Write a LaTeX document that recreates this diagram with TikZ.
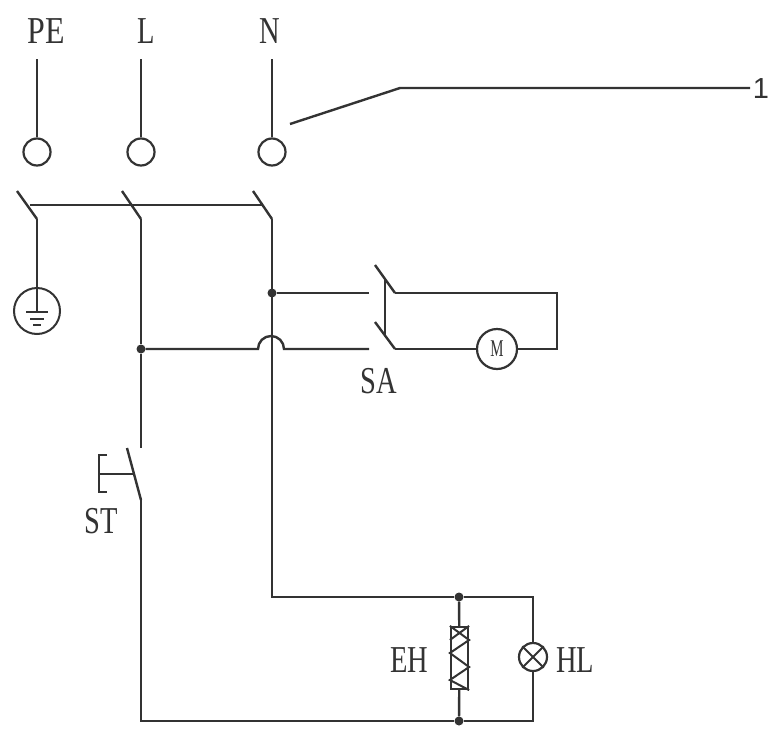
\documentclass[tikz,border=0pt]{standalone}
\usepackage{fontspec}
\setmainfont{Liberation Serif}
\newfontfamily\sansone{Liberation Sans}
\definecolor{ink}{HTML}{333333}
\tikzset{
  wire/.style={draw=ink,line width=2.4pt,line join=miter},
  thin wire/.style={draw=ink,line width=2pt},
  terminal/.style={circle,draw=ink,line width=2.2pt,fill=white,minimum size=27pt,inner sep=0pt},
  junction/.style={circle,fill=ink,draw=none,minimum size=9pt,inner sep=0pt},
  lab/.style={text=ink,font=\fontsize{38}{38}\selectfont,xscale=.75,inner sep=0pt},
}
\begin{document}
\begin{tikzpicture}[x=1pt,y=-1pt]
\useasboundingbox (0,0) rectangle (770,728);
% labels
\node[lab,xscale=1.12] (lPE) at (46,31) {PE};
\node[lab] (lL) at (146,31) {L};
\node[lab] (lN) at (270,31) {N};
\node[lab] (lSA) at (379,381) {SA};
\node[lab] (lST) at (101,521) {ST};
\node[lab] (lEH) at (409,660) {EH};
\node[lab] (lHL) at (575,660) {HL};
\node[text=ink,inner sep=0pt,font=\sansone\fontsize{29}{29}\selectfont] (lOne) at (761,89) {1};
% terminals
\coordinate (tPE) at (37,59);
\coordinate (tL) at (141,59);
\coordinate (tN) at (272,59);
\node[terminal] (cPE) at (37,152) {};
\node[terminal] (cL) at (141,152) {};
\node[terminal] (cN) at (272,152) {};
\draw[wire] (tPE) -- (cPE);
\draw[wire] (tL) -- (cL);
\draw[wire] (tN) -- (cN);
% leader
\coordinate (ldA) at (290,124);
\coordinate (ldB) at (400,88);
\coordinate (ldC) at (750,88);
\draw[wire] (ldA) -- (ldB) -- (ldC);
% main switch
\coordinate (bPEa) at (17,191); \coordinate (bPEb) at (37,219);
\coordinate (bLa) at (122,191); \coordinate (bLb) at (141,219);
\coordinate (bNa) at (253,191); \coordinate (bNb) at (272,219);
\coordinate (lkA) at (30,205); \coordinate (lkB) at (263,205);
\draw[wire] (lkA) -- (lkB);
\draw[wire] (bPEa) -- (bPEb);
\draw[wire] (bLa) -- (bLb);
\draw[wire] (bNa) -- (bNb);
% earth
\node[circle,draw=ink,line width=2pt,minimum size=46pt,inner sep=0pt] (gnd) at (37,311) {};
\coordinate (g1) at (37,312);
\draw[wire] (bPEb) -- (gnd.north);
\draw[wire] (gnd.north) -- (g1);
\coordinate (g1a) at (26,312); \coordinate (g1b) at (48,312);
\coordinate (g2a) at (30,318.5); \coordinate (g2b) at (44,318.5);
\coordinate (g3a) at (33,325); \coordinate (g3b) at (41,325);
\draw[thin wire] (g1a) -- (g1b);
\draw[thin wire] (g2a) -- (g2b);
\draw[thin wire] (g3a) -- (g3b);
% junctions
\node[junction] (jN) at (272,293) {};
\node[junction] (jL) at (141,349) {};
\node[junction] (jT) at (459,597) {};
\node[junction] (jB) at (459,721) {};
% L and N lines
\coordinate (Lend) at (141,448);
\draw[wire] (bLb) -- (jL) -- (Lend);
\coordinate (cornerN) at (272,597);
\draw[wire] (bNb) -- (cornerN) -- (jT);
% ST
\coordinate (stA) at (127,448); \coordinate (stB) at (141,500);
\coordinate (btA) at (107,455); \coordinate (btB) at (99,455); \coordinate (btC) at (99,492); \coordinate (btD) at (107,492);
\coordinate (btE) at (99,474); \coordinate (btF) at (134,474);
\draw[wire] (stA) -- (stB);
\draw[wire] (btA) -- (btB) -- (btC) -- (btD);
\draw[wire] (btE) -- (btF);
\coordinate (cornerB) at (141,721);
\draw[wire] (stB) -- (cornerB) -- (jB);
% SA
\coordinate (saTo) at (369,293);
\coordinate (saLo) at (369,349);
\coordinate (hA) at (256,349); \coordinate (hB) at (286,349);
\draw[wire] (jN) -- (saTo);
\draw[wire] (jL) -- (hA) -- ++(2,0) arc[start angle=180,end angle=360,radius=13] -- (hB) -- (saLo);
\coordinate (saA) at (375,265); \coordinate (saB) at (395,293);
\coordinate (saC) at (375,322); \coordinate (saD) at (395,349);
\coordinate (saE) at (385,278); \coordinate (saF) at (385,335);
\draw[wire] (saA) -- (saB);
\draw[wire] (saC) -- (saD);
\draw[wire] (saE) -- (saF);
\node[circle,draw=ink,line width=2.2pt,minimum size=40pt,inner sep=0pt,text=ink,font=\fontsize{24}{24}\selectfont] (mot) at (497,349) {\scalebox{.62}[1]{M}};
\coordinate (saG) at (557,293); \coordinate (saH) at (557,349);
\draw[wire] (saB) -- (saG) -- (saH) -- (mot);
\draw[wire] (saD) -- (mot);
% EH
\node[rectangle,draw=ink,line width=2.2pt,minimum width=17pt,minimum height=62pt,inner sep=0pt] (eh) at (459.5,658) {};
\draw[wire] (jT) -- (eh);
\draw[wire] (eh) -- (jB);
\draw[thin wire] (eh.north west) -- (eh.east |- 0,640) -- (eh.west |- 0,653) -- (eh.east |- 0,667) -- (eh.west |- 0,680) -- (eh.south east);
\draw[thin wire] (eh.north east) -- (eh.west |- 0,640);
% HL
\node[circle,draw=ink,line width=2.2pt,minimum size=28pt,inner sep=0pt] (hl) at (533,657) {};
\coordinate (hlT) at (533,597); \coordinate (hlB) at (533,721);
\draw[wire] (jT) -- (hlT) -- (hl);
\draw[wire] (hl) -- (hlB) -- (jB);
\draw[thin wire] (hl.45) -- (hl.225);
\draw[thin wire] (hl.135) -- (hl.315);
\end{tikzpicture}
\end{document}
